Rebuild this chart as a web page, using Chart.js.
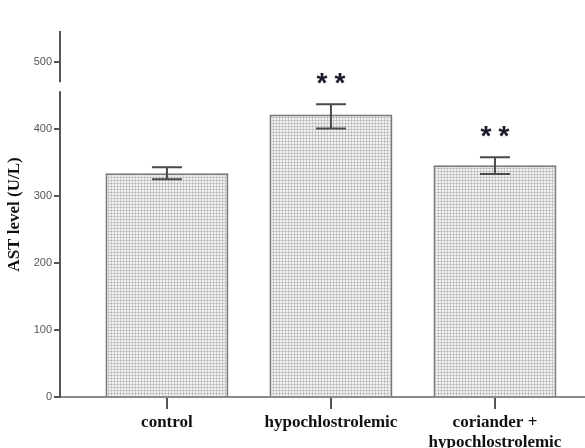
<!DOCTYPE html>
<html>
<head>
<meta charset="utf-8">
<script src="https://cdn.jsdelivr.net/npm/chart.js@4/dist/chart.umd.min.js"></script>
<style>
html,body{margin:0;padding:0;background:#fff;}
#wrap{width:585px;height:448px;position:relative;}
</style>
</head>
<body>
<div id="wrap"><canvas id="c" width="585" height="448"></canvas></div>
<script>
const categories = ["control", "hypochlostrolemic", ["coriander +", "hypochlostrolemic"]];
const astMean = [334, 422, 346];
const errLow = [325, 401, 333];
const errHigh = [343, 437, 358];
const significance = ["", "**", "**"];
const yTicks = [0, 100, 200, 300, 400, 500];

function makePattern() {
  const p = document.createElement('canvas');
  p.width = 3; p.height = 3;
  const g = p.getContext('2d');
  g.fillStyle = '#f2f2f2'; g.fillRect(0, 0, 3, 3);
  g.fillStyle = '#cdcdcd'; g.fillRect(0, 0, 3, 1); g.fillRect(0, 0, 1, 3);
  g.fillStyle = '#b4b4b4'; g.fillRect(0, 0, 1, 1);
  return g.createPattern(p, 'repeat');
}

const extras = {
  id: 'extras',
  afterDatasetsDraw(chart) {
    const ctx = chart.ctx, xs = chart.scales.x, ys = chart.scales.y;
    ctx.save();
    ctx.strokeStyle = '#4a4a4a';
    ctx.lineWidth = 2;
    for (let i = 0; i < astMean.length; i++) {
      const x = xs.getPixelForValue(i);
      const yh = ys.getPixelForValue(errHigh[i]);
      const yl = ys.getPixelForValue(errLow[i]);
      ctx.beginPath();
      ctx.moveTo(x, yh); ctx.lineTo(x, yl);
      ctx.moveTo(x - 15, yh); ctx.lineTo(x + 15, yh);
      ctx.moveTo(x - 15, yl); ctx.lineTo(x + 15, yl);
      ctx.stroke();
      if (significance[i]) {
        const stars = significance[i].split('');
        ctx.fillStyle = '#1a1a2a';
        ctx.font = 'bold 28px "Liberation Sans"';
        ctx.textAlign = 'center';
        ctx.textBaseline = 'alphabetic';
        const gap = 18;
        const x0 = x - gap * (stars.length - 1) / 2;
        stars.forEach((s, k) => ctx.fillText(s, x0 + k * gap, yh - 12));
      }
    }
    const ax = ys.right;
    ctx.fillStyle = '#fff';
    ctx.fillRect(ax - 3, ys.getPixelForValue(470), 6, 9);
    ctx.restore();
  }
};

new Chart(document.getElementById('c'), {
  type: 'bar',
  data: {
    datasets: [{
      data: astMean.map((v, i) => ({x: i, y: v})),
      backgroundColor: makePattern(),
      borderColor: '#7a7a7a',
      borderWidth: 2,
      borderSkipped: 'bottom',
      barPercentage: 0.75,
      categoryPercentage: 1.0
    }]
  },
  options: {
    responsive: false,
    animation: false,
    devicePixelRatio: 1,
    layout: {padding: {top: 32, right: 0, left: 0, bottom: 0}},
    plugins: {legend: {display: false}, tooltip: {enabled: false}},
    scales: {
      x: {
        type: 'linear',
        offset: false,
        min: -0.652,
        max: 2.549,
        afterBuildTicks: s => { s.ticks = [0, 1, 2].map(v => ({value: v})); },
        afterFit: s => { s.height = 51; },
        grid: {display: true, offset: false, drawOnChartArea: false, drawTicks: true, tickLength: 12, color: '#555', lineWidth: 2},
        border: {display: true, color: '#8a8a8a', width: 2},
        ticks: {
          autoSkip: false, maxRotation: 0, padding: 4,
          color: '#111',
          font: {family: '"Liberation Serif"', size: 17, weight: 'bold', lineHeight: 1.15},
          callback: v => categories[v]
        }
      },
      y: {
        min: 0,
        max: 545,
        afterBuildTicks: s => { s.ticks = yTicks.map(v => ({value: v})); },
        afterFit: s => { s.width = 60; },
        grid: {display: true, drawOnChartArea: false, drawTicks: true, tickLength: 6, color: '#555', lineWidth: 2},
        border: {display: true, color: '#555', width: 2},
        ticks: {
          padding: 2, color: '#555',
          font: {family: '"Liberation Sans"', size: 11}
        },
        title: {
          display: true, text: 'AST level (U/L)', color: '#111',
          font: {family: '"Liberation Serif"', size: 17, weight: 'bold'},
          padding: {top: 4, bottom: 0}
        }
      }
    }
  },
  plugins: [extras]
});
</script>
</body>
</html>
